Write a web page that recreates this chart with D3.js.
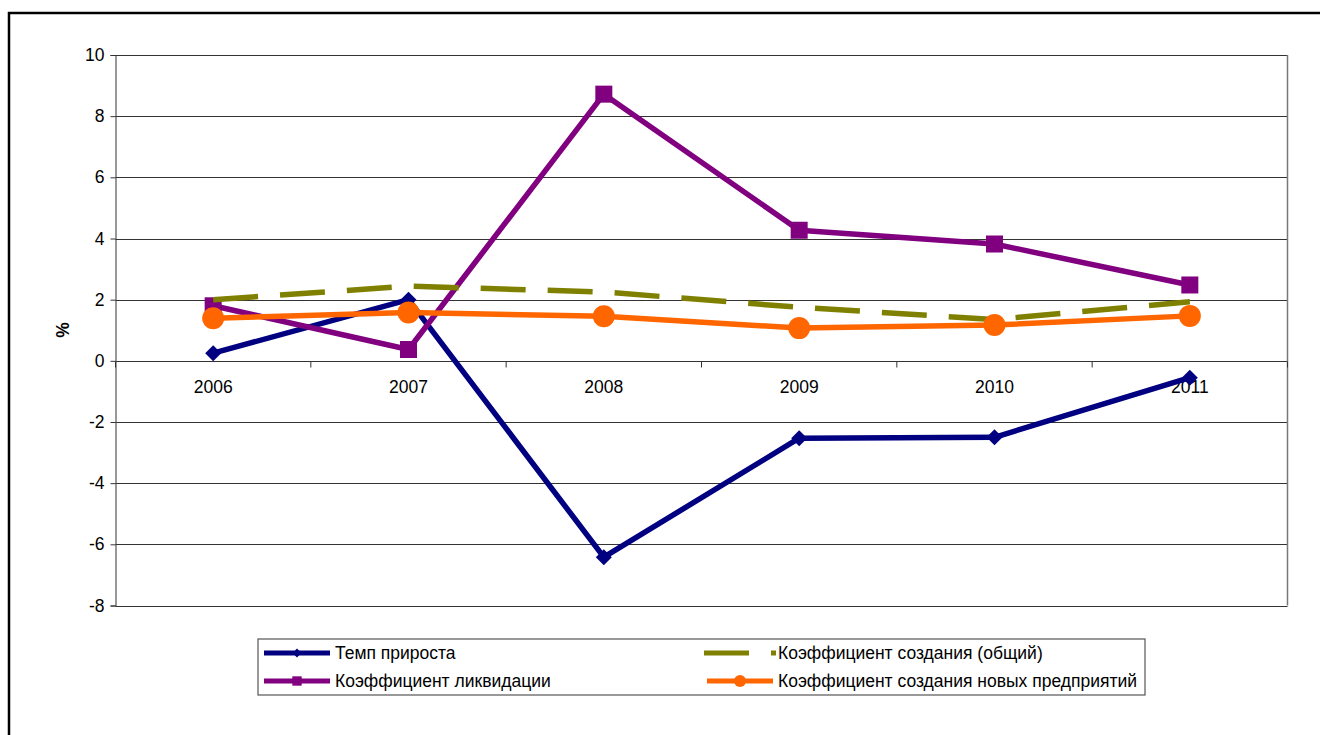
<!DOCTYPE html>
<html>
<head>
<meta charset="utf-8">
<script src="https://cdn.jsdelivr.net/npm/d3@7"></script>
<style>
  body { margin: 0; background: #fff; }
  svg { display: block; font-family: Arial, "Liberation Sans", sans-serif; }
</style>
</head>
<body>
<div id="chart"></div>
<script>
// categories (years)
const years = ["2006", "2007", "2008", "2009", "2010", "2011"];

// series values, %
const tempPrirosta = [0.25, 2.0, -6.42, -2.53, -2.5, -0.55];
const koefLikvidacii = [1.8, 0.37, 8.72, 4.27, 3.82, 2.48];
const koefSozdaniyaObshiy = [2.0, 2.44, 2.25, 1.75, 1.35, 1.93];
const koefSozdaniyaNovyh = [1.39, 1.58, 1.46, 1.07, 1.17, 1.47];

const yTicks = [-8, -6, -4, -2, 0, 2, 4, 6, 8, 10];

const series = [
  { name: "Темп прироста", values: tempPrirosta, color: "#000080", marker: "diamond" },
  { name: "Коэффициент ликвидации", values: koefLikvidacii, color: "#800080", marker: "square" },
  { name: "Коэффициент создания (общий)", values: koefSozdaniyaObshiy, color: "#808000", marker: "none", dash: "45,22" },
  { name: "Коэффициент создания новых предприятий", values: koefSozdaniyaNovyh, color: "#FF6600", marker: "circle" },
];

const width = 1320;
const height = 735;
const plotLeft = 115.5;
const plotRight = 1287.5;
const plotTop = 55;
const plotBottom = 605.5;
const fontSize = 17.5;

const svg = d3.create("svg").attr("width", width).attr("height", height);

// outer frame (right/bottom edges are off-canvas)
svg.append("rect")
  .attr("x", 9).attr("y", 13)
  .attr("width", width).attr("height", height)
  .attr("fill", "none").attr("stroke", "#000").attr("stroke-width", 2.5);

const x = d3.scaleBand().domain(years).range([plotLeft, plotRight]);
const y = d3.scaleLinear().domain([-8, 10]).range([plotBottom, plotTop]);

// horizontal gridlines
svg.append("g")
  .selectAll("line")
  .data(yTicks)
  .join("line")
  .attr("x1", plotLeft).attr("x2", plotRight)
  .attr("y1", (d) => Math.round(y(d)) + 0.5).attr("y2", (d) => Math.round(y(d)) + 0.5)
  .attr("stroke", "#333").attr("stroke-width", 1);

// right edge of plot area
svg.append("line")
  .attr("x1", plotRight).attr("x2", plotRight)
  .attr("y1", plotTop).attr("y2", plotBottom)
  .attr("stroke", "#777").attr("stroke-width", 1.5);

// y axis (plain hyphen for negatives, like the original)
const yAxis = svg.append("g")
  .attr("transform", `translate(${plotLeft},0)`)
  .call(d3.axisLeft(y).tickValues(yTicks).tickSize(5).tickPadding(6).tickFormat((d) => String(d)));
yAxis.select(".domain").attr("stroke", "#333");
yAxis.selectAll(".tick line").attr("stroke", "#333");
yAxis.selectAll(".tick text")
  .attr("font-size", fontSize).attr("font-family", "Arial, 'Liberation Sans', sans-serif").attr("fill", "#000");

// x axis on zero line, ticks at category boundaries
const xAxisG = svg.append("g").attr("transform", `translate(0,${Math.round(y(0)) + 0.5})`);
xAxisG.selectAll("line.bound")
  .data(years.concat(["end"]))
  .join("line")
  .attr("class", "bound")
  .attr("x1", (d, i) => plotLeft + i * x.step())
  .attr("x2", (d, i) => plotLeft + i * x.step())
  .attr("y1", 0).attr("y2", 6)
  .attr("stroke", "#333");
xAxisG.selectAll("text")
  .data(years)
  .join("text")
  .attr("x", (d) => x(d) + x.bandwidth() / 2)
  .attr("y", 31)
  .attr("text-anchor", "middle")
  .attr("font-size", fontSize)
  .text((d) => d);

// y axis title
svg.append("text")
  .attr("transform", `translate(69,330) rotate(-90)`)
  .attr("text-anchor", "middle")
  .attr("font-size", fontSize).attr("font-weight", "bold")
  .text("%");

const cx = (i) => x(years[i]) + x.bandwidth() / 2;

function drawMarker(g, type, color, px, py, scale = 1) {
  if (type === "diamond") {
    const s = 8 * scale;
    g.append("path")
      .attr("d", `M${px},${py - s}L${px + s},${py}L${px},${py + s}L${px - s},${py}Z`)
      .attr("fill", color);
  } else if (type === "square") {
    const s = 8.5 * scale;
    g.append("rect")
      .attr("x", px - s).attr("y", py - s).attr("width", 2 * s).attr("height", 2 * s)
      .attr("fill", color);
  } else if (type === "circle") {
    g.append("circle").attr("cx", px).attr("cy", py).attr("r", 11 * scale).attr("fill", color);
  }
}

const line = d3.line().x((d, i) => cx(i)).y((d) => y(d));

// draw series
series.forEach((s) => {
  const g = svg.append("g");
  g.append("path")
    .attr("d", line(s.values))
    .attr("fill", "none")
    .attr("stroke", s.color)
    .attr("stroke-width", 5.5)
    .attr("stroke-linejoin", "round")
    .attr("stroke-dasharray", s.dash || null);
  s.values.forEach((v, i) => drawMarker(g, s.marker, s.color, cx(i), y(v)));
});

// legend
const legend = svg.append("g");
legend.append("rect")
  .attr("x", 258).attr("y", 639).attr("width", 887).attr("height", 56)
  .attr("fill", "#fff").attr("stroke", "#555").attr("stroke-width", 1.2);

const legendPos = [
  { x1: 264, x2: 330, tx: 335, y: 653 },
  { x1: 264, x2: 330, tx: 335, y: 681 },
  { x1: 704, x2: 776, tx: 778, y: 653 },
  { x1: 707, x2: 773, tx: 778, y: 681 },
];

series.forEach((s, i) => {
  const p = legendPos[i];
  legend.append("line")
    .attr("x1", p.x1).attr("x2", p.x2).attr("y1", p.y).attr("y2", p.y)
    .attr("stroke", s.color).attr("stroke-width", 5)
    .attr("stroke-dasharray", s.dash || null);
  drawMarker(legend, s.marker, s.color, (p.x1 + p.x2) / 2, p.y, 0.55);
  legend.append("text")
    .attr("x", p.tx).attr("y", p.y + 6)
    .attr("font-size", fontSize)
    .text(s.name);
});

document.getElementById("chart").append(svg.node());
</script>
</body>
</html>
